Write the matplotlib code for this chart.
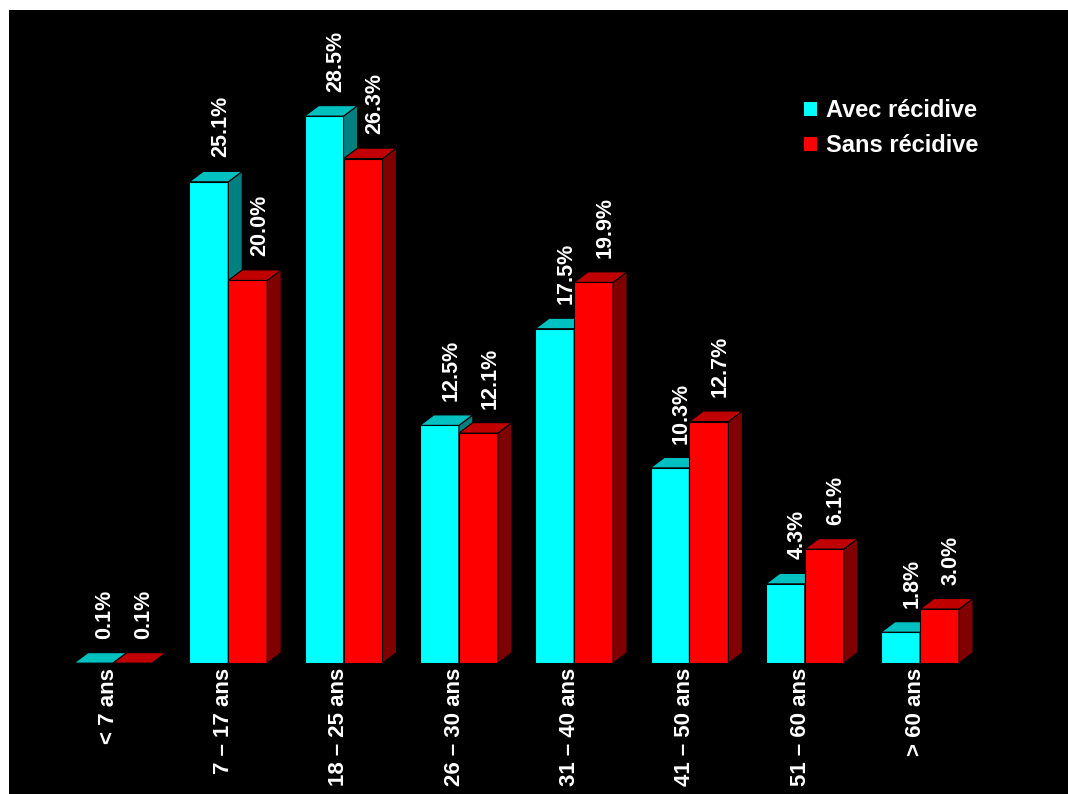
import numpy as np
import matplotlib
matplotlib.use("Agg")
import matplotlib.pyplot as plt
from matplotlib.patches import Polygon, Patch

plt.rcParams['font.family'] = ['Liberation Sans', 'DejaVu Sans']
plt.rcParams['font.weight'] = 'bold'

# data (percent)
categories = ['< 7 ans', '7 – 17 ans', '18 – 25 ans', '26 – 30 ans',
              '31 – 40 ans', '41 – 50 ans', '51 – 60 ans', '> 60 ans']
avec = [0.1, 25.1, 28.5, 12.5, 17.5, 10.3, 4.3, 1.8]
sans = [0.1, 20.0, 26.3, 12.1, 19.9, 12.7, 6.1, 3.0]
series_names = ['Avec récidive', 'Sans récidive']

# colours: front, top, side
cyan = ('#00FFFF', '#00C0C0', '#008080')
red = ('#FF0000', '#C00000', '#800000')

FLOOR = 0.2      # floor of the 3d chart
W = 0.338        # bar width
DX, DY = 0.121, 0.543   # depth offset


def bar3d(ax, x0, v, cols):
    """draw a pseudo 3d bar: front, side and top faces"""
    top = max(v, FLOOR)
    front = Polygon([(x0, FLOOR), (x0 + W, FLOOR), (x0 + W, top), (x0, top)],
                    closed=True, fc=cols[0], ec='black', lw=0.8)
    side = Polygon([(x0 + W, FLOOR), (x0 + W + DX, FLOOR + DY),
                    (x0 + W + DX, top + DY), (x0 + W, top)],
                   closed=True, fc=cols[2], ec='black', lw=0.8)
    lid = Polygon([(x0, top), (x0 + W, top), (x0 + W + DX, top + DY),
                   (x0 + DX, top + DY)],
                  closed=True, fc=cols[1], ec='black', lw=0.8)
    for p in (front, side, lid):
        ax.add_patch(p)
    return top


fig = plt.figure(figsize=(10.68, 7.94), dpi=100, facecolor='white')
# axes run a little past the right and bottom edges so no white shows there
ax = fig.add_axes([9 / 1068, -5 / 794, 1 - 9 / 1068 + 5 / 1068, 789 / 794])
ax.set_xlim(-0.902, 8.283 + 5 / 115.3)
ax.set_ylim(-6.57 - 5 / 19.33, 33.99)
ax.set_axis_off()
# black panel (axis off hides facecolor)
ax.add_patch(plt.Rectangle((0, 0), 1, 1, transform=ax.transAxes,
                           fc='black', ec='none', zorder=0))

for i, (a, s) in enumerate(zip(avec, sans)):
    ta = bar3d(ax, i - W, a, cyan)
    ts = bar3d(ax, i, s, red)
    ax.text(i - W / 2 + 0.1, ta + DY + 0.72, f'{a:.1f}%', rotation=90,
            ha='center', va='bottom', color='white', fontsize=15.5,
            fontweight='bold')
    ax.text(i + W / 2 + 0.1, ts + DY + 0.72, f'{s:.1f}%', rotation=90,
            ha='center', va='bottom', color='white', fontsize=15.5,
            fontweight='bold')
    ax.text(i - 0.04, FLOOR - 0.25, categories[i], rotation=90,
            ha='center', va='top', color='white', fontsize=16,
            fontweight='bold')

handles = [Patch(fc=cyan[0], ec='none'), Patch(fc=red[0], ec='none')]
leg = ax.legend(handles, series_names, loc='upper left',
                bbox_to_anchor=(795 / 1068, 1 - 90 / 794),
                bbox_transform=fig.transFigure, frameon=False,
                handlelength=0.55, handleheight=0.55, handletextpad=0.35,
                labelspacing=0.5, borderaxespad=0,
                prop={'size': 17, 'weight': 'bold'})
for t in leg.get_texts():
    t.set_color('white')

fig.savefig('out.png', dpi=100, facecolor=fig.get_facecolor())
